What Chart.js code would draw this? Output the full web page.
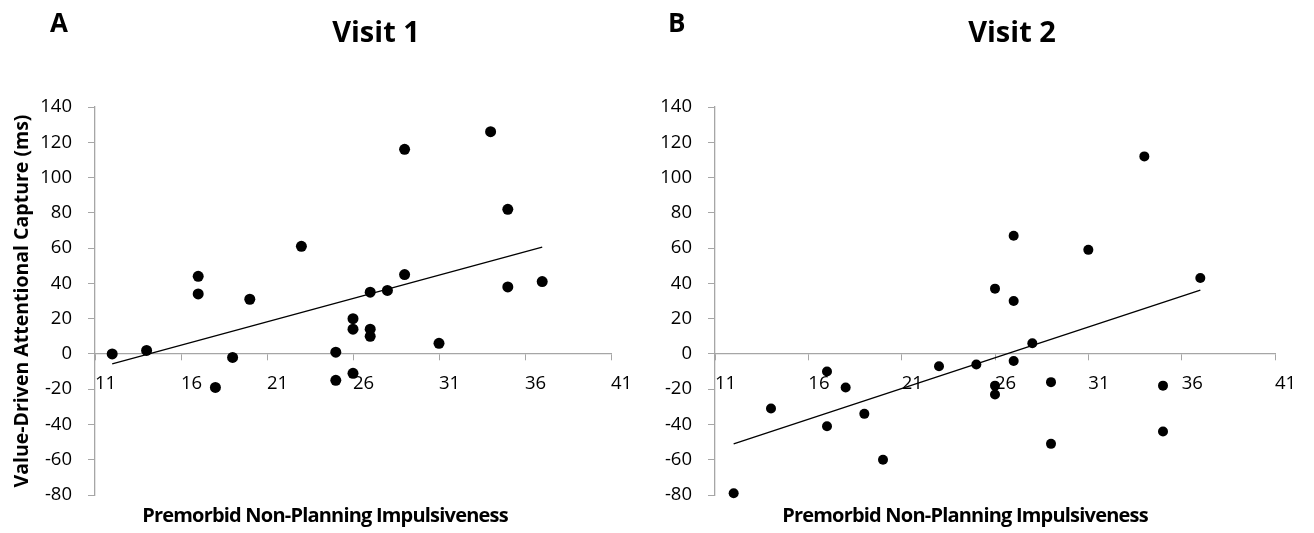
<!DOCTYPE html>
<html>
<head>
<meta charset="utf-8">
<title>Value-driven attentional capture vs. non-planning impulsiveness</title>
<script src="https://cdn.jsdelivr.net/npm/chart.js@4.4.1/dist/chart.umd.min.js"></script>
<style>
  body { margin: 0; background: #fff; }
  #wrap { position: relative; width: 1314px; height: 533px; overflow: hidden; font-family: 'Open Sans', sans-serif; color: #000; }
  #wrap canvas { position: absolute; top: 0; }
  .lbl { position: absolute; font-weight: bold; line-height: 1; white-space: nowrap; }
  .panel { font-size: 26px; }
  .title { font-size: 29px; transform: translateX(-50%); }
  .xtitle { font-size: 20px; letter-spacing: -0.8px; transform: translateX(-50%); }
</style>
</head>
<body>
<div id="wrap">
  <canvas id="visit1" width="650" height="533" style="left:0"></canvas>
  <canvas id="visit2" width="690" height="533" style="left:620px"></canvas>

  <div class="lbl panel" style="left:50px; top:9px">A</div>
  <div class="lbl panel" style="left:668px; top:9px">B</div>
  <div class="lbl title" style="left:376px; top:16px">Visit 1</div>
  <div class="lbl title" style="left:1012px; top:16px">Visit 2</div>
  <div class="lbl xtitle" style="left:325px; top:505px">Premorbid Non-Planning Impulsiveness</div>
  <div class="lbl xtitle" style="left:965px; top:505px">Premorbid Non-Planning Impulsiveness</div>
</div>

<script>
// --- Data ---
const visit1X = [12, 14, 17, 17, 18, 19, 20, 23, 25, 25, 26, 26, 26, 27, 27, 27, 28, 29, 29, 31, 34, 35, 35, 37];
const visit1Y = [0, 2, 44, 34, -19, -2, 31, 61, 1, -15, 20, 14, -11, 35, 14, 10, 36, 116, 45, 6, 126, 82, 38, 41];

const visit2X = [12, 14, 17, 17, 18, 19, 20, 23, 25, 26, 26, 26, 27, 27, 27, 28, 29, 29, 31, 34, 35, 35, 37];
const visit2Y = [-79, -31, -10, -41, -19, -34, -60, -7, -6, 37, -18, -23, 67, 30, -4, 6, -16, -51, 59, 112, -18, -44, 43];

const xTicks = { min: 11, max: 41, step: 5 };
const yTicks = { min: -80, max: 140, step: 20 };

const Y_TITLE = 'Value-Driven Attentional Capture (ms)';

// --- Style ---
const FONT = "'Open Sans', sans-serif";
const AXIS_GREY = '#a6a6a6';

// least squares trend line, drawn across the data's x range
function trendLine(xs, ys) {
    const n = xs.length;
    const mx = xs.reduce((a, b) => a + b, 0) / n;
    const my = ys.reduce((a, b) => a + b, 0) / n;
    let sxy = 0, sxx = 0;
    xs.forEach((x, i) => {
        sxy += (x - mx) * (ys[i] - my);
        sxx += (x - mx) * (x - mx);
    });
    const slope = sxy / sxx;
    const lo = Math.min(...xs), hi = Math.max(...xs);
    return [
        { x: lo, y: my + slope * (lo - mx) },
        { x: hi, y: my + slope * (hi - mx) }
    ];
}

function makeChart(canvasId, xs, ys, opts) {
    const points = xs.map((x, i) => ({ x: x, y: ys[i] }));
    const tickFont = { family: FONT, size: 18.5 };

    return new Chart(document.getElementById(canvasId), {
        type: 'scatter',
        data: {
            datasets: [
                {
                    data: points,
                    pointRadius: opts.radius,
                    pointBackgroundColor: '#000',
                    pointBorderWidth: 0,
                    clip: false
                },
                {
                    data: trendLine(xs, ys),
                    showLine: true,
                    borderColor: '#000',
                    borderWidth: 1.3,
                    pointRadius: 0
                }
            ]
        },
        options: {
            responsive: false,
            animation: false,
            layout: { padding: { left: 0, right: opts.padRight, top: 107, bottom: 38 } },
            plugins: {
                legend: { display: false },
                tooltip: { enabled: false }
            },
            scales: {
                x: {
                    type: 'linear',
                    position: { y: 0 },
                    min: xTicks.min,
                    max: xTicks.max,
                    ticks: { stepSize: xTicks.step, align: 'start', padding: 13, color: '#000', font: tickFont },
                    grid: { drawOnChartArea: false, tickLength: 6, color: AXIS_GREY },
                    border: { color: AXIS_GREY, width: 1.3 }
                },
                y: {
                    min: yTicks.min,
                    max: yTicks.max,
                    ticks: { stepSize: yTicks.step, padding: 16, color: '#000', font: tickFont },
                    grid: { drawOnChartArea: false, tickLength: 7, color: AXIS_GREY },
                    border: { color: AXIS_GREY, width: 1.3 },
                    title: {
                        display: !!opts.yTitle,
                        text: opts.yTitle || '',
                        color: '#000',
                        font: { family: FONT, size: 19.5, weight: 'bold' },
                        padding: { top: 11, bottom: 0 }
                    },
                    afterFit: (scale) => { scale.width = 95; }
                }
            }
        }
    });
}

makeChart('visit1', visit1X, visit1Y, { radius: 5.5, padRight: 39, yTitle: Y_TITLE });
makeChart('visit2', visit2X, visit2Y, { radius: 5, padRight: 35 });
</script>
</body>
</html>
